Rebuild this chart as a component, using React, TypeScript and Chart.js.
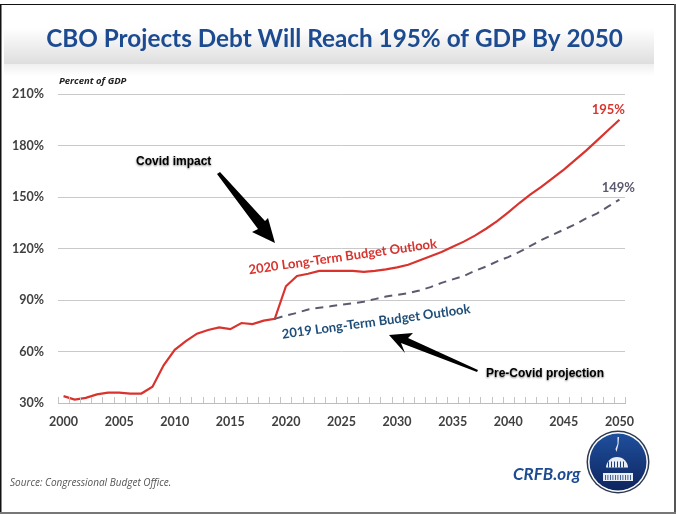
import React, { useEffect, useRef } from 'react';
import Chart from 'chart.js/auto';

const years = Array.from({ length: 51 }, (_, i) => String(2000 + i));

const outlook2020 = [
    34, 32, 33, 35, 36, 36, 35.5, 35.5, 39.5, 52,
    61, 66, 70.4, 72.5, 74, 73, 76.6, 76, 78, 79,
    98, 104, 105.3, 107, 107, 107, 107, 106.4, 107, 107.8,
    109, 110.5, 113, 115.5, 118, 121, 124, 127.5, 131.5, 136,
    141, 146.5, 151.5, 156, 161, 166, 171.5, 177, 183, 189,
    195,
];

const outlook2019 = [
    null, null, null, null, null, null, null, null, null, null,
    null, null, null, null, null, null, null, null, null, 79,
    81, 82.5, 84.5, 85.5, 86.3, 87.3, 88, 89, 90.5, 92,
    93, 94, 95.5, 97.5, 100, 102, 104, 107, 109.5, 112.5,
    115, 118, 121.5, 125, 128, 131, 134, 137.5, 140.5, 144.5,
    148.5,
];

const RED = '#d9332e';
const SLATE = '#5b5b70';
const NAVY = '#1f4e79';
const BLUE = '#1c4b91';
const TICK_GREY = '#404040';

function polygon(ctx: CanvasRenderingContext2D, pts: number[][]) {
    ctx.beginPath();
    pts.forEach(([x, y], i) => (i ? ctx.lineTo(x, y) : ctx.moveTo(x, y)));
    ctx.closePath();
    ctx.fill();
}

function rotatedText(ctx: CanvasRenderingContext2D, text: string, x: number, y: number, deg: number, font: string, color: string) {
    ctx.save();
    ctx.translate(x, y);
    ctx.rotate((deg * Math.PI) / 180);
    ctx.font = font;
    ctx.fillStyle = color;
    ctx.textAlign = 'left';
    ctx.textBaseline = 'alphabetic';
    ctx.fillText(text, 0, 0);
    ctx.restore();
}

function drawLogo(ctx: CanvasRenderingContext2D, cx: number, cy: number) {
    ctx.save();
    ctx.fillStyle = '#2b3a50';
    ctx.beginPath();
    ctx.arc(cx, cy, 31.5, 0, Math.PI * 2);
    ctx.fill();
    ctx.fillStyle = '#ffffff';
    ctx.beginPath();
    ctx.arc(cx, cy, 30, 0, Math.PI * 2);
    ctx.fill();
    const g = ctx.createLinearGradient(0, cy - 28, 0, cy + 28);
    g.addColorStop(0, '#1f4f9c');
    g.addColorStop(1, '#0e2560');
    ctx.fillStyle = g;
    ctx.beginPath();
    ctx.arc(cx, cy, 28.5, 0, Math.PI * 2);
    ctx.fill();
    // capitol: statue, dome, columns
    ctx.fillStyle = '#e8edf5';
    polygon(ctx, [[cx - 0.5, cy - 25], [cx + 1, cy - 25], [cx + 0.5, cy - 18], [cx - 1.5, cy - 10], [cx - 2.5, cy - 13], [cx - 0.5, cy - 18]]);
    ctx.beginPath();
    ctx.arc(cx - 1, cy + 6, 11, Math.PI, 0);
    ctx.fill();
    ctx.fillRect(cx - 15, cy + 11, 30, 8);
    ctx.fillStyle = '#1d3f7d';
    for (let i = -9; i <= 8; i += 3) ctx.fillRect(cx + i - 1, cy - 0.5, 1, 6);
    ctx.fillRect(cx - 12, cy + 5.5, 22, 1);
    for (let i = -13; i <= 13; i += 2.5) ctx.fillRect(cx + i, cy + 13, 0.8, 5);
    ctx.restore();
}

const decorations = {
    id: 'decorations',
    beforeDraw(chart: any) {
        const { ctx } = chart;
        ctx.save();
        ctx.fillStyle = '#ffffff';
        ctx.fillRect(0, 0, 676, 514);
        // title band
        const band = ctx.createLinearGradient(0, 28, 0, 64);
        band.addColorStop(0, '#ffffff');
        band.addColorStop(1, '#dedede');
        ctx.fillStyle = band;
        ctx.fillRect(4, 28, 650, 36);
        const shade = ctx.createLinearGradient(0, 64, 0, 76);
        shade.addColorStop(0, '#efefef');
        shade.addColorStop(1, '#ffffff');
        ctx.fillStyle = shade;
        ctx.fillRect(4, 64, 650, 12);
        ctx.restore();
    },
    afterDraw(chart: any) {
        const { ctx, scales, chartArea } = chart;
        const x = (year: number) => scales.x.getPixelForValue(year - 2000);
        const y = (pct: number) => scales.y.getPixelForValue(pct);
        ctx.save();

        // tick marks stand on the axis and point up
        ctx.strokeStyle = '#c4c4c4';
        ctx.lineWidth = 1;
        ctx.beginPath();
        years.concat('2051').forEach((yr) => {
            const px = Math.round(x(Number(yr) - 0.5)) + 0.5;
            ctx.moveTo(px, chartArea.bottom);
            ctx.lineTo(px, chartArea.bottom - 6);
        });
        ctx.stroke();

        // frame of the screenshot
        ctx.fillStyle = '#111111';
        ctx.fillRect(0, 4, 676, 1);
        ctx.fillRect(0, 4, 1.5, 510);
        ctx.fillStyle = '#555555';
        ctx.fillRect(674, 4, 2, 510);
        ctx.fillStyle = '#777777';
        ctx.fillRect(0, 512, 676, 2);

        // title is placed by hand, it is not centred on the plot
        ctx.font = 'bold 24.3px Lato';
        ctx.fillStyle = BLUE;
        ctx.textAlign = 'center';
        ctx.textBaseline = 'middle';
        ctx.fillText('CBO Projects Debt Will Reach 195% of GDP By 2050', 334.5, 39);

        ctx.font = 'italic bold 9.5px "Open Sans"';
        ctx.fillStyle = '#222222';
        ctx.textAlign = 'left';
        ctx.textBaseline = 'alphabetic';
        ctx.fillText('Percent of GDP', 59, 84);

        rotatedText(ctx, '2020 Long-Term Budget Outlook', x(2016.7), y(105), -8, 'bold 13px Lato', RED);
        rotatedText(ctx, '2019 Long-Term Budget Outlook', x(2019.7), y(67.5), -7.7, 'bold 13px Lato', NAVY);

        ctx.font = 'bold 13px Lato';
        ctx.textAlign = 'right';
        ctx.fillStyle = RED;
        ctx.fillText('195%', 625, 114);
        ctx.fillStyle = SLATE;
        ctx.fillText('149%', 635, 192);

        // arrows
        ctx.fillStyle = '#000000';
        polygon(ctx, [[217, 174], [220, 172], [265, 221], [268, 218], [275, 243], [252, 232], [258, 229]]);
        polygon(ctx, [[478, 370], [477, 372], [401, 343], [405, 353], [389, 335], [413, 333], [408, 338]]);

        ctx.shadowColor = 'rgba(0,0,0,0.5)';
        ctx.shadowBlur = 2;
        ctx.shadowOffsetY = 1;
        ctx.font = 'bold 12px "Liberation Sans"';
        ctx.textAlign = 'left';
        ctx.fillStyle = '#000000';
        ctx.fillText('Covid impact', 136, 165);
        ctx.fillText('Pre-Covid projection', 486, 377);
        ctx.shadowColor = 'transparent';
        ctx.shadowBlur = 0;
        ctx.shadowOffsetY = 0;

        ctx.font = 'italic 10px "Open Sans"';
        ctx.fillStyle = '#555555';
        ctx.fillText('Source: Congressional Budget Office.', 10, 486);

        ctx.font = 'italic bold 17px Lato';
        ctx.fillStyle = BLUE;
        ctx.fillText('CRFB.org', 513, 480);

        drawLogo(ctx, 618, 462);
        ctx.restore();
    },
};

export default function App() {
    const chartRef = useRef<HTMLCanvasElement>(null);

    useEffect(() => {
        if (!chartRef.current) return;
        const chart = new Chart(chartRef.current, {
            type: 'line',
            data: {
                labels: years,
                datasets: [
                    {
                        label: '2019 Long-Term Budget Outlook',
                        data: outlook2019,
                        borderColor: SLATE,
                        borderWidth: 2,
                        borderDash: [8, 6],
                        pointRadius: 0,
                        tension: 0,
                        spanGaps: false,
                    },
                    {
                        label: '2020 Long-Term Budget Outlook',
                        data: outlook2020,
                        borderColor: RED,
                        borderWidth: 2.2,
                        pointRadius: 0,
                        tension: 0,
                    },
                ],
            },
            options: {
                responsive: false,
                animation: false,
                layout: { padding: { top: 94, left: 0, right: 51, bottom: 0 } },
                plugins: {
                    legend: { display: false },
                    tooltip: { enabled: false },
                },
                scales: {
                    x: {
                        type: 'category',
                        offset: true,
                        afterFit: (scale: any) => { scale.height = 111; },
                        border: { color: '#bdbdbd' },
                        grid: { drawOnChartArea: false, drawTicks: false },
                        ticks: {
                            autoSkip: false,
                            maxRotation: 0,
                            padding: 11,
                            color: TICK_GREY,
                            font: { family: 'Lato', size: 12.5, weight: 'bold' },
                            callback: (_v: any, i: number) => (i % 5 === 0 ? years[i] : ''),
                        },
                    },
                    y: {
                        min: 30,
                        max: 210,
                        afterFit: (scale: any) => { scale.width = 58; },
                        border: { display: false },
                        grid: { color: '#c9c9c9', drawTicks: false },
                        ticks: {
                            stepSize: 30,
                            padding: 14,
                            color: TICK_GREY,
                            font: { family: 'Lato', size: 12.5, weight: 'bold' },
                            callback: (v: any) => `${v}%`,
                        },
                    },
                },
            } as any,
            plugins: [decorations],
        });
        return () => chart.destroy();
    }, []);

    return (
        <div style={{ position: 'absolute', left: 0, top: 0, width: 676, height: 514 }}>
            <canvas ref={chartRef} width={676} height={514} style={{ display: 'block' }}></canvas>
        </div>
    );
}
